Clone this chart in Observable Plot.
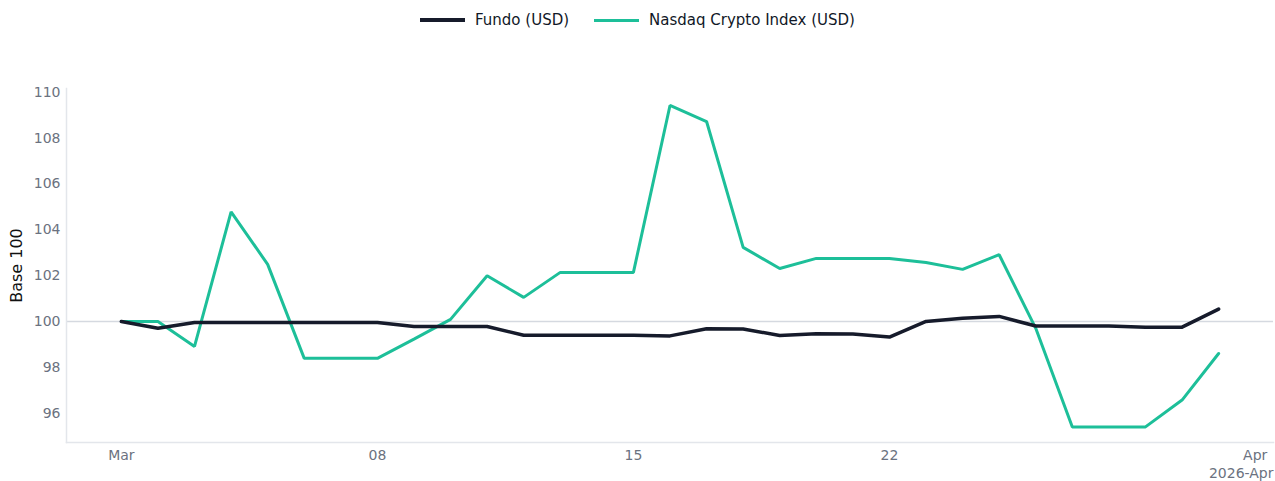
<!DOCTYPE html>
<html>
<head>
<meta charset="utf-8">
<script src="https://cdn.jsdelivr.net/npm/d3@7"></script>
<script src="https://cdn.jsdelivr.net/npm/@observablehq/plot@0.6"></script>
<style>
  html, body { margin: 0; padding: 0; background: #fff; }
  body { width: 1275px; height: 481px; overflow: hidden; font-family: "DejaVu Sans", sans-serif; }
  #legend { height: 40px; display: flex; justify-content: center; align-items: center; gap: 25px; font-size: 15px; color: #111827; }
  .item { display: flex; align-items: center; gap: 10px; }
  .sw { width: 45px; height: 0; border-top-style: solid; }
</style>
</head>
<body>
<div id="legend"></div>
<div id="chart"></div>
<script>
const seriesNames = ["Fundo (USD)", "Nasdaq Crypto Index (USD)"];
const seriesColors = ["#161b2b", "#1dbf99"];
const seriesWidths = [3.5, 3];
const days = d3.range(1, 32).map(d => new Date(Date.UTC(2026, 2, d)));
const fundo = [100.0, 99.7, 99.95, 99.95, 99.95, 99.95, 99.95, 99.95, 99.78, 99.78,
  99.78, 99.4, 99.4, 99.4, 99.4, 99.37, 99.68, 99.67, 99.39, 99.46,
  99.45, 99.32, 100.0, 100.14, 100.22, 99.8, 99.8, 99.8, 99.75, 99.75, 100.54];
const crypto = [100.0, 100.0, 98.91, 104.78, 102.49, 98.39, 98.39, 98.39, 99.23, 100.09,
  101.99, 101.05, 102.14, 102.14, 102.14, 109.42, 108.72, 103.23, 102.31, 102.75,
  102.75, 102.75, 102.57, 102.27, 102.91, 99.7, 95.4, 95.4, 95.4, 96.57, 98.6];
const xTicks = [new Date(Date.UTC(2026,2,1)), new Date(Date.UTC(2026,2,8)), new Date(Date.UTC(2026,2,15)), new Date(Date.UTC(2026,2,22)), new Date(Date.UTC(2026,3,1))];
const xTickLabels = ["Mar", "08", "15", "22", "Apr"];
const yearLabel = "2026-Apr";
const yTicks = [96, 98, 100, 102, 104, 106, 108, 110];
const yLabel = "Base 100";
const baseline = 100;

const rows = [];
days.forEach((d, i) => {
  rows.push({date: d, value: fundo[i], series: seriesNames[0]});
  rows.push({date: d, value: crypto[i], series: seriesNames[1]});
});

// legend
const lg = document.getElementById("legend");
seriesNames.forEach((n, i) => {
  const it = document.createElement("div"); it.className = "item";
  const sw = document.createElement("div"); sw.className = "sw";
  sw.style.borderTopColor = seriesColors[i]; sw.style.borderTopWidth = (i === 0 ? 4 : 3) + "px";
  const t = document.createElement("span"); t.textContent = n;
  it.appendChild(sw); it.appendChild(t); lg.appendChild(it);
});

const xDomain = [new Date(Date.UTC(2026,1,27,12)), new Date(Date.UTC(2026,3,1,12))];
const gray = "#6b7280";

const chart = Plot.plot({
  width: 1275,
  height: 441,
  marginTop: 48,
  marginBottom: 39,
  marginLeft: 66,
  marginRight: 2,
  style: {fontFamily: "DejaVu Sans, sans-serif", fontSize: "14px", background: "#fff"},
  x: {type: "utc", domain: xDomain},
  y: {domain: [94.72, 110.16]},
  color: {domain: seriesNames, range: seriesColors},
  marks: [
    Plot.ruleY([baseline], {stroke: "#d5d9e0", strokeWidth: 1.5}),
    Plot.frame({anchor: "left", stroke: "#e3e6eb", strokeWidth: 1.5}),
    Plot.frame({anchor: "bottom", stroke: "#e3e6eb", strokeWidth: 1.5}),
    Plot.axisY({ticks: yTicks, tickSize: 0, tickPadding: 6, fill: gray, fontSize: 14, label: null}),
    Plot.text([yLabel], {frameAnchor: "left", textAnchor: "middle", dx: -50, rotate: -90, fontSize: 16, fill: "#111"}),
    Plot.axisX({ticks: xTicks, tickSize: 0, tickPadding: 8, fill: gray, fontSize: 14, label: null,
      tickFormat: (d, i) => xTickLabels[i]}),
    Plot.text([yearLabel], {x: () => xDomain[1], frameAnchor: "bottom", textAnchor: "end", lineAnchor: "middle", dy: 31, fill: gray, fontSize: 14}),
    Plot.line(rows.filter(r => r.series === seriesNames[1]), {x: "date", y: "value", stroke: seriesColors[1], strokeWidth: seriesWidths[1], strokeLinejoin: "miter"}),
    Plot.line(rows.filter(r => r.series === seriesNames[0]), {x: "date", y: "value", stroke: seriesColors[0], strokeWidth: seriesWidths[0], strokeLinejoin: "round"})
  ]
});
document.getElementById("chart").appendChild(chart);
</script>
</body>
</html>
